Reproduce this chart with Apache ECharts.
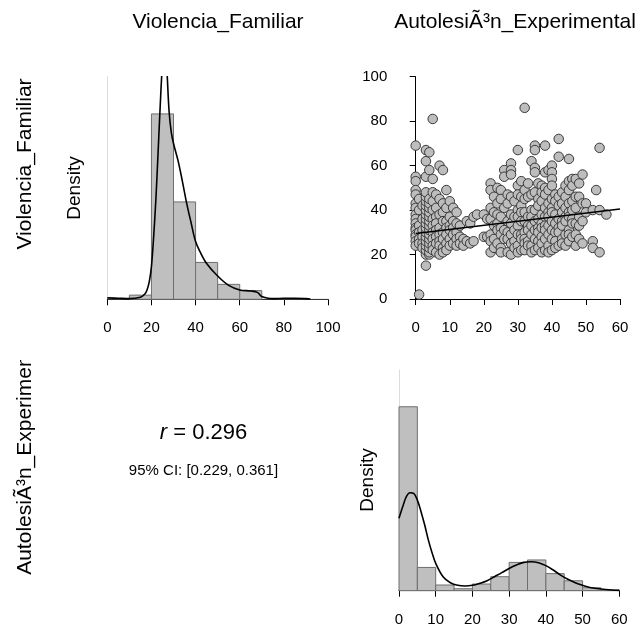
<!DOCTYPE html>
<html>
<head>
<meta charset="utf-8">
<script src="https://cdn.jsdelivr.net/npm/echarts@6/dist/echarts.min.js"></script>
<style>html,body{margin:0;padding:0;background:#fff;}#c{width:640px;height:636px;}</style>
</head>
<body>
<div id="c"></div>
<script>
// ---- Data ----
const varNames = ['Violencia_Familiar', 'AutolesiÃ³n_Experimental'];
const corrText = '0.296';
const ciText = '95% CI: [0.229, 0.361]';

// Histogram of Violencia_Familiar (density)
const vfBinEdges = [0, 10, 20, 30, 40, 50, 60, 70, 80, 90, 100];
const vfDensity = [0, 0.0012, 0.0533, 0.0280, 0.0106, 0.0043, 0.0025, 0, 0, 0];
const vfCurveX = [0,5,10,15,17,18,19,20,21,22,23,24,25,26,27,28,29,30,32,34,36,38,40,42,45,50,55,60,65,68,70,73,75,80,85,90,92];
const vfCurveY = [0.0004,0.0003,0.0002,0.0006,0.0015,0.0027,0.005,0.0094,0.018,0.0286,0.042,0.056,0.068,0.075,0.066,0.054,0.048,0.0448,0.040,0.034,0.0275,0.0219,0.0166,0.0137,0.0103,0.0067,0.0040,0.0027,0.0024,0.0020,0.0008,0.0003,0.0002,0.0003,0.0003,0.0002,0.0001];
const vfTicks = [0, 20, 40, 60, 80, 100];

// Histogram of AutolesiÃ³n_Experimental (density)
const aeBinEdges = [0, 5, 10, 15, 20, 25, 30, 35, 40, 45, 50, 55, 60];
const aeDensity = [0.1131, 0.0143, 0.0035, 0.0012, 0.0041, 0.0086, 0.0174, 0.0189, 0.0105, 0.0061, 0.0018, 0.0004];
const aeCurveX = [0,1,2,3,4,5,6,7,8,9,10,12,14,16,18,20,22,24,26,28,30,32,34,36,38,40,42,44,46,48,50,52,55,58,60];
const aeCurveY = [0.0445,0.0516,0.0578,0.0602,0.0598,0.0557,0.0486,0.0404,0.0311,0.0234,0.0168,0.0086,0.0049,0.0033,0.0029,0.0033,0.0045,0.0061,0.0086,0.0111,0.0137,0.0158,0.0174,0.0178,0.0172,0.0154,0.0127,0.0096,0.0070,0.0049,0.0033,0.0020,0.0010,0.0004,0.0002];
const aeTicks = [0, 10, 20, 30, 40, 50, 60];

// Scatter: [AutolesiÃ³n_Experimental, Violencia_Familiar]
const scatterData = [
[0,69],[0,55],[0,53],[0,49],[0,47],[0,43],[0,41],[0,38],[0,36],[0,34],[0,32],[0,31],[0,29],[0,28],[0,26],[0,24],
[1,2],[1,45],[1,40],[1,33],[1,30],[1,27],[1,25],
[2,42],[2,36],[2,31],[2,28],[2,25],[2,23],
[3,15],[3,20],[3,22],[3,24],[3,26],[3,28],[3,30],[3,32],[3,34],[3,36],[3,38],[3,40],[3,42],[3,44],[3,46],[3,48],[3,55],[3,62],[3,67],
[4,20],[4,21],[4,23],[4,25],[4,27],[4,29],[4,31],[4,33],[4,35],[4,37],[4,39],[4,41],[4,43],[4,45],[4,58],[4,66],
[5,81],[5,54],[5,48],[5,44],[5,40],[5,36],[5,33],[5,30],[5,27],[5,24],[5,22],
[6,47],[6,41],[6,37],[6,34],[6,31],[6,28],[6,25],[6,21],
[7,60],[7,45],[7,38],[7,32],[7,29],[7,26],[7,24],[7,20],
[8,58],[8,43],[8,39],[8,35],[8,30],[8,27],[8,23],[8,21],
[9,49],[9,41],[9,35],[9,32],[9,29],[9,25],[9,22],
[10,44],[10,37],[10,33],[10,31],[10,27],[10,24],
[11,41],[11,35],[11,32],[11,29],[11,25],
[12,39],[12,34],[12,30],[12,27],[12,24],
[13,33],[13,28],[13,25],
[14,27],[14,24],
[15,35],[15,26],
[16,34],[16,25],
[17,37],[17,26],
[18,38],
[20,28],[20,38],
[21,28],[21,36],
[22,52],[22,49],[22,41],[22,36],[22,29],[22,26],[22,21],
[23,46],[23,39],[23,33],[23,27],[23,23],
[24,50],[24,43],[24,38],[24,34],[24,31],[24,25],
[25,49],[25,45],[25,37],[25,32],[25,29],[25,23],[25,21],
[26,58],[26,55],[26,41],[26,31],[26,27],
[27,47],[27,43],[27,35],[27,30],[27,27],[27,21],
[28,61],[28,58],[28,56],[28,46],[28,38],[28,34],[28,29],[28,25],[28,20],
[29,44],[29,37],[29,31],[29,26],[29,23],
[30,67],[30,51],[30,47],[30,40],[30,37],[30,33],[30,29],[30,24],[30,21],
[31,53],[31,46],[31,42],[31,39],[31,35],[31,29],[31,27],[31,22],
[32,86],[32,49],[32,45],[32,39],[32,35],[32,30],[32,27],[32,25],[32,22],
[33,52],[33,46],[33,37],[33,33],[33,31],[33,26],[33,24],
[34,62],[34,47],[34,40],[34,37],[34,33],[34,29],[34,24],[34,21],
[35,69],[35,67],[35,59],[35,57],[35,48],[35,40],[35,35],[35,31],[35,27],[35,22],
[36,52],[36,45],[36,42],[36,36],[36,32],[36,30],[36,26],[36,23],
[37,51],[37,48],[37,44],[37,38],[37,34],[37,32],[37,28],[37,25],[37,21],
[38,69],[38,57],[38,50],[38,47],[38,41],[38,37],[38,33],[38,31],[38,27],[38,22],
[39,58],[39,49],[39,43],[39,39],[39,37],[39,33],[39,29],[39,24],[39,21],
[40,60],[40,57],[40,54],[40,51],[40,45],[40,41],[40,39],[40,35],[40,31],[40,27],[40,22],
[41,47],[41,44],[41,38],[41,34],[41,30],[41,26],[41,23],
[42,72],[42,64],[42,46],[42,42],[42,36],[42,32],[42,30],[42,24],
[43,48],[43,43],[43,39],[43,35],[43,33],[43,27],[43,25],
[44,51],[44,46],[44,41],[44,37],[44,35],[44,29],[44,24],
[45,63],[45,53],[45,49],[45,43],[45,39],[45,37],[45,31],[45,29],[45,26],
[46,54],[46,51],[46,44],[46,40],[46,36],[46,34],[46,28],
[47,54],[47,46],[47,41],[47,34],[47,29],[47,24],
[48,52],[48,46],[48,37],[48,33],[48,27],
[49,56],[49,43],[49,35],[49,25],
[50,43],[50,39],
[52,40],[52,26],[52,23],
[53,49],
[54,68],[54,40],[54,21],
[56,38]
];
// Regression line endpoints
const regLine = [[0, 29.5], [60, 40.5]];
const scatterXTicks = [0, 10, 20, 30, 40, 50, 60];
const scatterYTicks = [0, 20, 40, 60, 80, 100];

// ---- Build ----
const FONT = "'Liberation Sans', Arial, sans-serif";
const BAR_FILL = '#bfbfbf';
const BAR_STROKE = '#6e6e6e';

function histData(edges, dens) {
  return dens.map((d, i) => [edges[i], edges[i + 1], d]);
}
function zip(xs, ys) { return xs.map((x, i) => [x, ys[i]]); }

function renderBar(params, api) {
  const x0 = api.value(0), x1 = api.value(1), d = api.value(2);
  const p0 = api.coord([x0, 0]);
  const p1 = api.coord([x1, d]);
  if (p0[1] - p1[1] < 0.5) {
    return { type: 'line', shape: { x1: p0[0], y1: p0[1], x2: p1[0], y2: p0[1] },
      style: { stroke: BAR_STROKE, lineWidth: 1, opacity: 0.6 } };
  }
  return { type: 'rect',
    shape: { x: p0[0], y: p1[1], width: p1[0] - p0[0], height: p0[1] - p1[1] },
    style: { fill: BAR_FILL, stroke: BAR_STROKE, lineWidth: 1 } };
}

const visibleX = (min, max, interval, offset, ticks) => ({
  min: min, max: max, interval: interval, offset: offset,
  axisLine: { show: true, lineStyle: { color: '#000', width: 1 } },
  axisTick: { show: true, length: 6, lineStyle: { color: '#000' } },
  axisLabel: { show: true, color: '#000', fontSize: 15, fontFamily: FONT, margin: 10,
    customValues: ticks, formatter: v => String(v) },
  splitLine: { show: false }
});
const greyY = (max, offset) => ({
  min: 0, max: max, offset: offset,
  axisLine: { show: true, lineStyle: { color: '#dcdcdc', width: 1 } },
  axisTick: { show: false }, axisLabel: { show: false }, splitLine: { show: false }
});

const chart = echarts.init(document.getElementById('c'), null, { renderer: 'canvas' });

const txt = (text, x, y, size, rot) => ({
  type: 'text', x: x, y: y, rotation: rot || 0, z: 50,
  style: { text: text, font: size + 'px ' + FONT, fill: '#000',
    align: 'center', verticalAlign: 'middle', textAlign: 'center', textVerticalAlign: 'middle' }
});

const option = {
  animation: false,
  backgroundColor: '#fff',
  grid: [
    { left: 107.3, top: 76.7, width: 220.7, height: 222.6 },
    { left: 415.7, top: 76.7, width: 204.3, height: 222.3 },
    { left: 399, top: 370, width: 220.3, height: 220.7 }
  ],
  xAxis: [
    Object.assign({ gridIndex: 0, type: 'value' }, visibleX(0, 100, 20, 11.4, vfTicks)),
    Object.assign({ gridIndex: 1, type: 'value' }, visibleX(0, 60, 10, 11.7, scatterXTicks)),
    Object.assign({ gridIndex: 2, type: 'value' }, visibleX(0, 60, 10, 12, aeTicks))
  ],
  yAxis: [
    Object.assign({ gridIndex: 0, type: 'value' }, greyY(0.064, 12)),
    { gridIndex: 1, type: 'value', min: 0, max: 100, interval: 20, offset: 12.4,
      axisLine: { show: true, lineStyle: { color: '#000', width: 1 } },
      axisTick: { show: true, length: 6, lineStyle: { color: '#000' } },
      axisLabel: { color: '#000', fontSize: 15, fontFamily: FONT, margin: 16,
        customValues: scatterYTicks },
      splitLine: { show: false } },
    Object.assign({ gridIndex: 2, type: 'value' }, greyY(0.1357, 10.7))
  ],
  series: [
    { type: 'custom', xAxisIndex: 0, yAxisIndex: 0, renderItem: renderBar,
      encode: { x: [0, 1], y: 2 }, data: histData(vfBinEdges, vfDensity), z: 1 },
    { type: 'line', xAxisIndex: 0, yAxisIndex: 0, data: zip(vfCurveX, vfCurveY),
      smooth: 0.35, showSymbol: false, symbol: 'none', clip: true,
      lineStyle: { color: '#000', width: 1.6 }, z: 3 },
    { type: 'scatter', xAxisIndex: 1, yAxisIndex: 1, data: scatterData,
      symbol: 'circle', symbolSize: 9.5, clip: false,
      itemStyle: { color: '#bdbdbd', borderColor: '#3a3a3a', borderWidth: 1, opacity: 1 }, z: 2 },
    { type: 'line', xAxisIndex: 1, yAxisIndex: 1, data: regLine, symbol: 'none',
      lineStyle: { color: '#000', width: 1.6 }, z: 4 },
    { type: 'custom', xAxisIndex: 2, yAxisIndex: 2, renderItem: renderBar,
      encode: { x: [0, 1], y: 2 }, data: histData(aeBinEdges, aeDensity), z: 1 },
    { type: 'line', xAxisIndex: 2, yAxisIndex: 2, data: zip(aeCurveX, aeCurveY),
      smooth: 0.35, symbol: 'none', clip: true,
      lineStyle: { color: '#000', width: 1.6 }, z: 3 }
  ],
  graphic: [
    txt(varNames[0], 218, 22, 21),
    txt(varNames[1], 515, 22, 21),
    txt(varNames[0], 25, 164, 21, Math.PI / 2),
    txt(varNames[1], 25, 454, 21, Math.PI / 2),
    { type: 'rect', z: 60, shape: { x: 0, y: 300, width: 60, height: 60 }, style: { fill: '#fff' } },
    txt('Density', 75, 188, 19, Math.PI / 2),
    txt('Density', 368, 480, 19, Math.PI / 2),
    { type: 'text', x: 203.5, y: 433, z: 50,
      style: { text: '{i|r} = ' + corrText, font: '22px ' + FONT, fill: '#000', align: 'center', verticalAlign: 'middle', textAlign: 'center', textVerticalAlign: 'middle',
        rich: { i: { fontStyle: 'italic', fontSize: 22, fontFamily: FONT, fill: '#000' } } } },
    txt(ciText, 203.5, 471, 15)
  ]
};
chart.setOption(option);
</script>
</body>
</html>
